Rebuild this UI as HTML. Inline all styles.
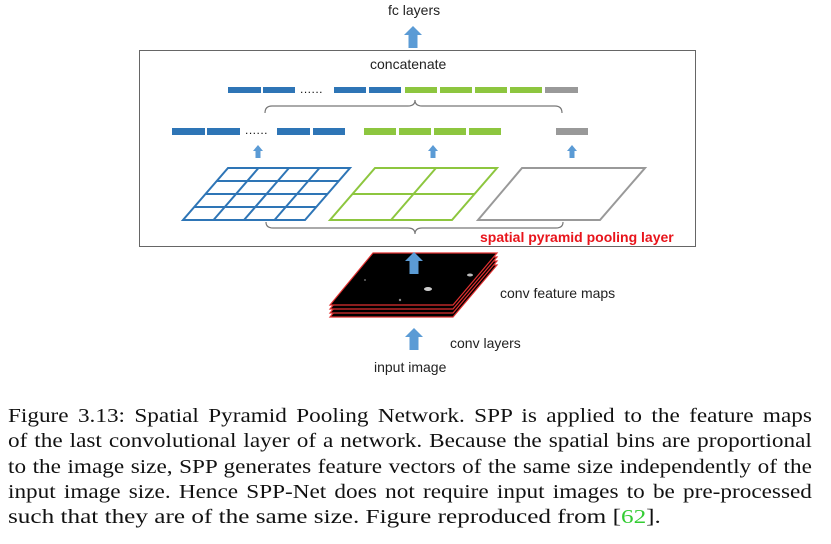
<!DOCTYPE html>
<html><head><style>
body{margin:0;width:831px;height:544px;background:#fff;position:relative;overflow:hidden;font-family:"Liberation Sans",sans-serif}
.t{position:absolute;font-size:14px;color:#222;white-space:nowrap}
.cap{position:absolute;left:8px;font-family:"Liberation Serif",serif;font-size:20px;color:#111;transform-origin:0 0;height:25px;line-height:25px;text-align:justify;text-align-last:justify;white-space:nowrap}
.a{width:693px;transform:scaleX(1.16)}
.b{width:640px;transform:scaleX(1.26);text-align-last:left}
</style></head><body>
<svg width="831" height="544" style="position:absolute;left:0;top:0">
<defs>
<g id="ua"><path d="M-5,6 L0,0 L5,6 L2.5,6 L2.5,13 L-2.5,13 L-2.5,6Z" fill="#5b9bd5"/></g>
<g id="ba"><path d="M-9,9 L0,0 L9,9 L4.5,9 L4.5,22 L-4.5,22 L-4.5,9Z" fill="#5b9bd5"/></g>
</defs>
<rect x="139.5" y="50.5" width="556" height="196" fill="none" stroke="#666" stroke-width="1"/>
<use href="#ba" x="413" y="26"/>
<g fill="#2e75b6"><rect x="228" y="87" width="33" height="6"/><rect x="263" y="87" width="32" height="6"/><rect x="334" y="87" width="32" height="6"/><rect x="369" y="87" width="32" height="6"/></g>
<g fill="#8dc63f"><rect x="405" y="87" width="32" height="6"/><rect x="440" y="87" width="32" height="6"/><rect x="475" y="87" width="32" height="6"/><rect x="510" y="87" width="32" height="6"/></g>
<rect x="545" y="87" width="33" height="6" fill="#999"/>
<text x="300" y="93" font-size="12" fill="#111" letter-spacing="0.5">......</text>
<path d="M265,113 Q265,106 272,106 L408,106 Q415,106 415,100 Q415,106 422,106 L555,106 Q562,106 562,113" fill="none" stroke="#777" stroke-width="1.2"/>
<g fill="#2e75b6"><rect x="172" y="128" width="33" height="7"/><rect x="207" y="128" width="33" height="7"/><rect x="277" y="128" width="33" height="7"/><rect x="313" y="128" width="32" height="7"/></g>
<g fill="#8dc63f"><rect x="364" y="128" width="32" height="7"/><rect x="399" y="128" width="32" height="7"/><rect x="434" y="128" width="32" height="7"/><rect x="469" y="128" width="32" height="7"/></g>
<rect x="556" y="128" width="32" height="7" fill="#999"/>
<text x="245" y="134" font-size="12" fill="#111" letter-spacing="0.5">......</text>
<use href="#ua" x="258" y="145"/><use href="#ua" x="433" y="145"/><use href="#ua" x="572" y="145"/>
<g stroke="#2e75b6" stroke-width="2" fill="none">
<path d="M228,168 L350,168 L305,220 L183,220Z"/>
<path d="M216.75,181 L338.75,181 M205.5,194 L327.5,194 M194.25,207 L316.25,207"/>
<path d="M258.5,168 L213.5,220 M289,168 L244,220 M319.5,168 L274.5,220"/>
</g>
<g stroke="#8dc63f" stroke-width="2" fill="none">
<path d="M375,168 L497,168 L452,220 L330,220Z"/>
<path d="M352.5,194 L474.5,194 M436,168 L391,220"/>
</g>
<path d="M522,168 L645,168 L600,220 L478,220Z" stroke="#999" stroke-width="2" fill="none"/>
<path d="M266,222 Q266,228 273,228 L408,228 Q415,228 415,234 Q415,228 422,228 L556,228 Q563,228 563,222" fill="none" stroke="#777" stroke-width="1.2"/>
<g stroke="#e03030" stroke-width="1.2" fill="#000">
<path d="M373,265 L497,265 L453,317 L330,317Z"/>
<path d="M373,261 L497,261 L453,313 L330,313Z"/>
<path d="M373,257 L497,257 L453,309 L330,309Z"/>
<path d="M373,253 L497,253 L453,305 L330,305Z"/>
</g>
<ellipse cx="428" cy="289" rx="4" ry="2" fill="#ccc"/><ellipse cx="470" cy="275" rx="3" ry="1.5" fill="#bbb"/><circle cx="400" cy="300" r="1.2" fill="#888"/><circle cx="365" cy="280" r="1" fill="#666"/>
<use href="#ba" x="414" y="252"/>
<use href="#ba" x="414" y="328"/>
</svg>
<div class="t" style="left:388px;top:2px">fc layers</div>
<div class="t" style="left:370px;top:56px">concatenate</div>
<div class="t" style="left:480px;top:229px;color:#e8141b;font-weight:bold">spatial pyramid pooling layer</div>
<div class="t" style="left:500px;top:285px">conv feature maps</div>
<div class="t" style="left:450px;top:335px">conv layers</div>
<div class="t" style="left:374px;top:359px">input image</div>
<div class="cap a" style="top:404px">Figure 3.13: Spatial Pyramid Pooling Network. SPP is applied to the feature maps</div>
<div class="cap a" style="top:429px">of the last convolutional layer of a network. Because the spatial bins are proportional</div>
<div class="cap a" style="top:455px">to the image size, SPP generates feature vectors of the same size independently of the</div>
<div class="cap a" style="top:480px">input image size. Hence SPP-Net does not require input images to be pre-processed</div>
<div class="cap b" style="top:505px">such that they are of the same size. Figure reproduced from [<span style="color:#3c3">62</span>].</div>
</body></html>
